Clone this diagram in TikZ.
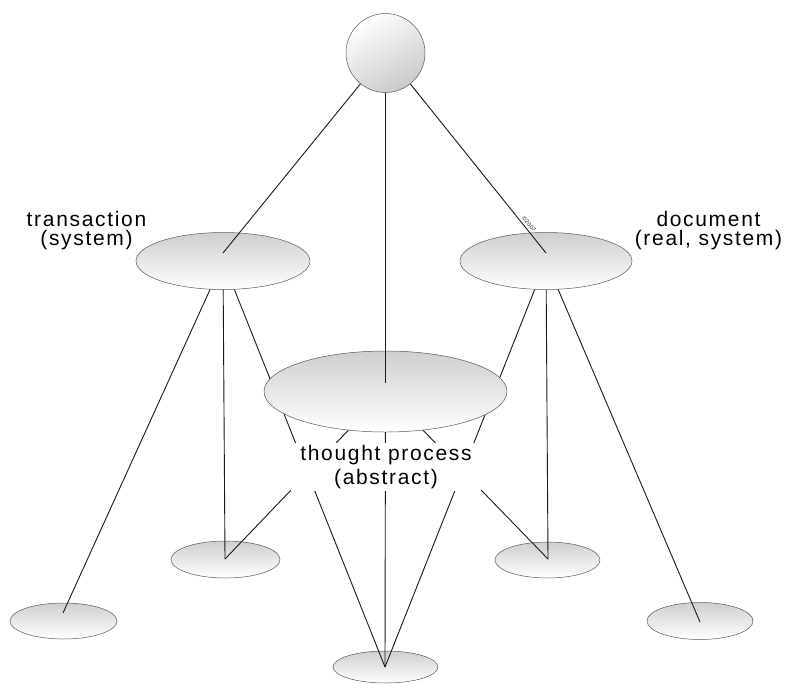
\documentclass[tikz,border=0pt]{standalone}
\usepackage{fontspec}
\setmainfont{Liberation Sans}[LetterSpace=8]
\usetikzlibrary{shapes.geometric}

\tikzset{
  conn/.style={draw=black!90, line width=0.9pt},
  blob/.style={ellipse, draw=black!65, line width=0.5pt, inner sep=0pt,
    top color=gray!38, middle color=white, bottom color=white},
  ball/.style={circle, draw=black!65, line width=0.5pt, inner sep=0pt,
    minimum size=79pt, top color=white, middle color=white,
    bottom color=gray!42, shading angle=30},
  lbl/.style={align=center, inner sep=0pt, text=black,
    font=\fontsize{21}{19}\selectfont},
}

\begin{document}
\begin{tikzpicture}[x=1pt, y=-1pt]
\useasboundingbox (0,0) rectangle (787,683);

% lower row of ellipses
\node[blob, minimum width=107pt, minimum height=36pt] (farleft)  at (63.5,621) {};
\node[blob, minimum width=109pt, minimum height=37pt] (leftsm)   at (225.5,559.5) {};
\node[blob, minimum width=105pt, minimum height=32pt] (bottom)   at (385.5,667) {};
\node[blob, minimum width=105pt, minimum height=36pt] (rightsm)  at (547.5,560) {};
\node[blob, minimum width=106pt, minimum height=37pt] (farright) at (700,621) {};

% points where the connectors meet the lower ellipses
\coordinate (farleft-a)  at (63,613);
\coordinate (leftsm-a)   at (225,559);
\coordinate (bottom-a)   at (385,667);
\coordinate (rightsm-a)  at (548,559);
\coordinate (farright-a) at (700,622);

% centres of the middle-level ellipses
\coordinate (trans-c)   at (223,261);
\coordinate (doc-c)     at (546,261);
\coordinate (thought-c) at (385.5,391.5);

% connectors down to the lower row
\draw[conn] (trans-c) -- (farleft-a);
\draw[conn] (trans-c) -- (leftsm-a);
\draw[conn] (trans-c) -- (bottom-a);
\draw[conn] (doc-c) -- (farright-a);
\draw[conn] (doc-c) -- (rightsm-a);
\draw[conn] (doc-c) -- (bottom-a);
\draw[conn] (thought-c) -- (leftsm-a);
\draw[conn] (thought-c) -- (bottom-a);
\draw[conn] (thought-c) -- (rightsm-a);

% middle-level ellipses
\node[blob, minimum width=174pt, minimum height=57pt] (trans) at (trans-c) {};
\node[blob, minimum width=172pt, minimum height=57pt] (doc)   at (doc-c) {};
\node[blob, minimum width=243pt, minimum height=81pt] (thought) at (thought-c) {};

\coordinate (trans-a)   at (223,253);
\coordinate (doc-a)     at (546,253);
\coordinate (thought-a) at (385.5,383);

% the root sphere and its connectors
\coordinate (top-c) at (385.5,53);
\draw[conn] (top-c) -- (trans-a);
\draw[conn] (top-c) -- (thought-a);
\draw[conn] (top-c) -- (doc-a);
\node[ball] (top) at (top-c) {};

% small mark along the right-hand connector
\node[font=\fontsize{5.5}{6}\selectfont, rotate=-51, inner sep=0pt]
  (mark) at (529,224) {\textcopyright 2007};

% labels
\node[lbl] (translbl) at (86.5,231) {transaction\\(system)};
\node[lbl] (doclbl) at (708.5,231) {document\\(real, system)};
\node[lbl, fill=white, inner xsep=9pt, inner ysep=2pt] (thoughtlbl)
  at (386,467) {thought process\\[4pt](abstract)};
\end{tikzpicture}
\end{document}
